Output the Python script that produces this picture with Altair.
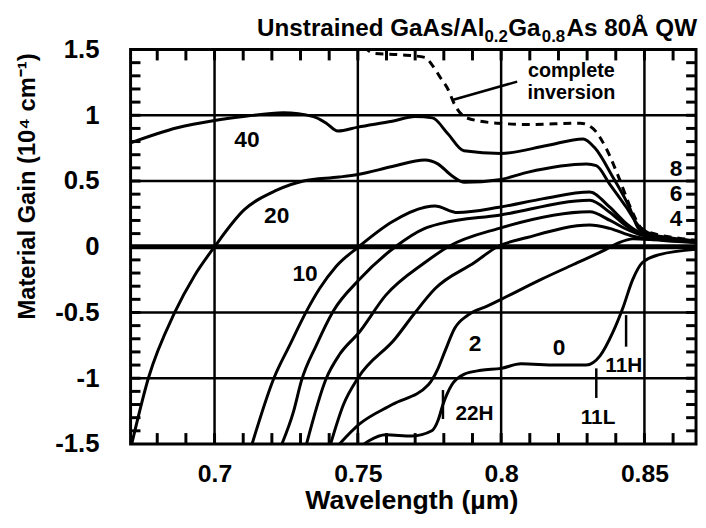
import altair as alt
import pandas as pd

FONT = "Liberation Sans"
W, H = 572, 399
XMIN, XMAX = 0.6707, 0.868
YMIN, YMAX = -1.5, 1.5

# ---------------- data ----------------
x40 = [0.6707, 0.687, 0.700, 0.710, 0.724, 0.7345, 0.739, 0.743, 0.750, 0.762, 0.770, 0.776, 0.7814, 0.787, 0.800, 0.816, 0.8286, 0.8326, 0.839, 0.8447, 0.8482, 0.853, 0.858, 0.863, 0.868]
y40 = [0.79, 0.905, 0.96, 0.99, 1.02, 0.99, 0.94, 0.88, 0.91, 0.955, 0.99, 0.98, 0.86, 0.73, 0.71, 0.77, 0.82, 0.754, 0.529, 0.303, 0.13, 0.09, 0.07, 0.055, 0.045]

x20 = [0.6711, 0.6769, 0.6861, 0.693, 0.700, 0.7103, 0.7217, 0.731, 0.7434, 0.750, 0.762, 0.7734, 0.7779, 0.7828, 0.7872, 0.7993, 0.8091, 0.8298, 0.8332, 0.8378, 0.8436, 0.8482, 0.853, 0.860, 0.868]
y20 = [-1.5, -1.0, -0.5, -0.22, 0.0, 0.28, 0.43, 0.50, 0.53, 0.55, 0.61, 0.66, 0.63, 0.54, 0.49, 0.51, 0.566, 0.629, 0.617, 0.479, 0.303, 0.153, 0.09, 0.06, 0.045]

x10 = [0.7131, 0.7207, 0.7262, 0.7321, 0.7366, 0.7424, 0.7503, 0.762, 0.7734, 0.7769, 0.7848, 0.7993, 0.8148, 0.8309, 0.8378, 0.8436, 0.849, 0.855, 0.860, 0.868]
y10 = [-1.5, -1.0, -0.75, -0.49, -0.32, -0.15, 0.0, 0.19, 0.30, 0.31, 0.26, 0.30, 0.366, 0.416, 0.303, 0.178, 0.10, 0.07, 0.055, 0.04]

x8 = [0.7235, 0.7276, 0.7303, 0.7355, 0.7414, 0.7505, 0.7631, 0.7734, 0.7792, 0.7993, 0.8309, 0.838, 0.8436, 0.849, 0.855, 0.860, 0.868]
y8 = [-1.5, -1.25, -1.02, -0.75, -0.49, -0.25, 0.0, 0.14, 0.178, 0.24, 0.353, 0.26, 0.16, 0.095, 0.068, 0.052, 0.038]

x6 = [0.7321, 0.739, 0.7436, 0.7505, 0.7597, 0.7734, 0.7815, 0.7993, 0.8309, 0.838, 0.8436, 0.849, 0.855, 0.860, 0.868]
y6 = [-1.5, -1.0, -0.82, -0.65, -0.37, -0.12, 0.0, 0.14, 0.266, 0.20, 0.135, 0.088, 0.064, 0.05, 0.036]

x4 = [0.7405, 0.745, 0.750, 0.763, 0.770, 0.7769, 0.7907, 0.7987, 0.8091, 0.8309, 0.8378, 0.8459, 0.852, 0.860, 0.868]
y4 = [-1.5, -1.2, -1.0, -0.70, -0.50, -0.32, -0.12, 0.0, 0.07, 0.165, 0.14, 0.08, 0.06, 0.045, 0.034]

x2 = [0.7436, 0.7505, 0.762, 0.7746, 0.778, 0.7803, 0.7838, 0.7884, 0.7953, 0.800, 0.8138, 0.8252, 0.8366, 0.841, 0.846, 0.852, 0.860, 0.868]
y2 = [-1.5, -1.35, -1.2, -1.05, -0.925, -0.80, -0.62, -0.52, -0.45, -0.40, -0.25, -0.135, -0.02, 0.03, 0.06, 0.055, 0.042, 0.032]

x0 = [0.751, 0.7539, 0.7597, 0.7689, 0.7758, 0.778, 0.7797, 0.7828, 0.787, 0.793, 0.800, 0.8069, 0.8193, 0.8297, 0.8345, 0.839, 0.8424, 0.8459, 0.8493, 0.8552, 0.868]
y0 = [-1.52, -1.476, -1.43, -1.44, -1.40, -1.32, -1.20, -1.05, -0.97, -0.94, -0.925, -0.89, -0.90, -0.90, -0.83, -0.65, -0.47, -0.25, -0.12, -0.06, -0.02]

x_inv = [0.752, 0.756, 0.765, 0.7734, 0.776, 0.779, 0.7814, 0.7838, 0.788, 0.7986, 0.810, 0.8276, 0.832, 0.8366, 0.841, 0.8455, 0.849, 0.855, 0.862, 0.868]
y_inv = [1.52, 1.47, 1.46, 1.44, 1.38, 1.28, 1.20, 1.08, 0.98, 0.94, 0.93, 0.94, 0.90, 0.75, 0.53, 0.28, 0.14, 0.09, 0.065, 0.05]

curve_names = ["40", "20", "10", "8", "6", "4", "2", "0"]
curve_xs = [x40, x20, x10, x8, x6, x4, x2, x0]
curve_ys = [y40, y20, y10, y8, y6, y4, y2, y0]

label_text = ["40", "20", "10", "8", "6", "4", "2", "0"]
label_x = [0.7113, 0.7217, 0.7316, 0.861, 0.861, 0.861, 0.7909, 0.8202]
label_y = [0.812, 0.233, -0.21, 0.59, 0.402, 0.214, -0.737, -0.767]

trans_text = ["22H", "11L", "11H"]
trans_x = [0.7907, 0.8338, 0.8428]
trans_y = [-1.27, -1.305, -0.906]
marker_x = [0.7797, 0.8332, 0.8436]
marker_y1 = [-1.09, -0.925, -0.52]
marker_y2 = [-1.31, -1.15, -0.76]

inv_text = ["complete", "inversion"]
inv_x = [0.8245, 0.8245]
inv_y = [1.338, 1.172]
pointer_x = [0.7833]
pointer_x2 = [0.8056]
pointer_y = [1.118]
pointer_y2 = [1.256]

x_major = [0.7, 0.75, 0.8, 0.85]
y_major = [-1.5, -1, -0.5, 0, 0.5, 1, 1.5]
x_grid = [0.7, 0.75, 0.8, 0.85]
y_grid = [-1, -0.5, 0.5, 1]
x_minor = [0.68, 0.69, 0.70, 0.71, 0.72, 0.73, 0.74, 0.75, 0.76, 0.77, 0.78, 0.79, 0.80, 0.81, 0.82, 0.83, 0.84, 0.85, 0.86]
y_minor = [-1.4, -1.3, -1.2, -1.1, -1.0, -0.9, -0.8, -0.7, -0.6, -0.5, -0.4, -0.3, -0.2, -0.1, 0.0,
           0.1, 0.2, 0.3, 0.4, 0.5, 0.6, 0.7, 0.8, 0.9, 1.0, 1.1, 1.2, 1.3, 1.4]

# ---------------- tables ----------------
rows = []
for name, xs, ys in zip(curve_names, curve_xs, curve_ys):
    for xv, yv in zip(xs, ys):
        rows.append({"curve": name, "x": xv, "y": yv})
curve_df = pd.DataFrame(rows)
inv_df = pd.DataFrame({"x": x_inv, "y": y_inv})

seg_rows = []
for a, b, c, d in zip(pointer_x, pointer_x2, pointer_y, pointer_y2):
    seg_rows.append({"x": a, "x2": b, "y": c, "y2": d})
for a, c, d in zip(marker_x, marker_y1, marker_y2):
    seg_rows.append({"x": a, "x2": a, "y": c, "y2": d})
seg_df = pd.DataFrame(seg_rows)

# inward minor ticks (lengths in pixels converted to data units), kept a little
# away from the frame so they are drawn as short inward strokes
ty = 11 * (YMAX - YMIN) / H
tx = 10 * (XMAX - XMIN) / W
tick_rows = []
for v in x_minor:
    tick_rows.append({"x": v, "x2": v, "y": YMAX, "y2": YMAX - ty})
    tick_rows.append({"x": v, "x2": v, "y": YMIN, "y2": YMIN + ty})
for v in y_minor:
    tick_rows.append({"x": XMIN, "x2": XMIN + tx, "y": v, "y2": v})
    tick_rows.append({"x": XMAX, "x2": XMAX - tx, "y": v, "y2": v})
tick_df = pd.DataFrame(tick_rows)

xscale = alt.Scale(domain=[XMIN, XMAX], nice=False, zero=False)
yscale = alt.Scale(domain=[YMIN, YMAX], nice=False, zero=False)

xaxis = alt.Axis(values=x_major, labelExpr="toString(datum.value)", title="Wavelength (µm)",
                 labelFont=FONT, labelFontSize=25, labelFontWeight="bold", labelColor="black",
                 labelPadding=38, labelBaseline="alphabetic", labelFlush=False, labelOverlap=False,
                 ticks=False, tickSize=0, domain=False, grid=False, zindex=0,
                 titleFont=FONT, titleFontSize=27, titleFontWeight="bold", titleColor="black",
                 titleX=284, titleY=65, titleBaseline="alphabetic", titleAlign="center")
yaxis = alt.Axis(values=y_major, labelExpr="toString(datum.value)", title="Material Gain (10⁴ cm⁻¹)",
                 labelFont=FONT, labelFontSize=26, labelFontWeight="bold", labelColor="black",
                 labelPadding=32, labelFlush=False, labelOverlap=False,
                 ticks=False, tickSize=0, domain=False, grid=False, zindex=0,
                 titleFont=FONT, titleFontSize=24, titleFontWeight="bold", titleColor="black",
                 titleX=-104, titleY=138, titleAngle=-90, titleBaseline="middle", titleAlign="center")


def X(f):
    return alt.X(f, scale=xscale, axis=xaxis)


def Y(f):
    return alt.Y(f, scale=yscale, axis=yaxis)


curves = alt.Chart(curve_df).mark_line(color="black", strokeWidth=3, interpolate="monotone", clip=True).encode(
    x=X("x:Q"), y=Y("y:Q"), detail="curve:N",
)
inversion = alt.Chart(inv_df).mark_line(color="black", strokeWidth=3, strokeDash=[8, 6], interpolate="monotone", clip=True).encode(
    x=X("x:Q"), y=Y("y:Q"))

vgrid = alt.Chart(pd.DataFrame({"x": x_grid})).mark_rule(color="black", strokeWidth=2.5).encode(x=X("x:Q"))
hgrid = alt.Chart(pd.DataFrame({"y": y_grid})).mark_rule(color="black", strokeWidth=2.5).encode(y=Y("y:Q"))
zero = alt.Chart(pd.DataFrame({"y": [0]})).mark_rule(color="black", strokeWidth=5).encode(y=Y("y:Q"))

segments = alt.Chart(seg_df).mark_rule(color="black", strokeWidth=2.5).encode(
    x=X("x:Q"), x2="x2:Q", y=Y("y:Q"), y2="y2:Q")
ticks = alt.Chart(tick_df).mark_rule(color="#000000", strokeWidth=3, opacity=1, strokeCap="butt").encode(
    x=X("x:Q"), x2="x2:Q", y=Y("y:Q"), y2="y2:Q")

labels = alt.Chart(pd.DataFrame({"t": label_text, "x": label_x, "y": label_y})).mark_text(
    font=FONT, fontWeight="bold", fontSize=23, color="black", align="center", baseline="middle").encode(
    x=X("x:Q"), y=Y("y:Q"), text="t:N")
trans = alt.Chart(pd.DataFrame({"t": trans_text, "x": trans_x, "y": trans_y})).mark_text(
    font=FONT, fontWeight="bold", fontSize=21, color="black", align="center", baseline="middle").encode(
    x=X("x:Q"), y=Y("y:Q"), text="t:N")
inv_lbl = alt.Chart(pd.DataFrame({"t": inv_text, "x": inv_x, "y": inv_y})).mark_text(
    font=FONT, fontWeight="bold", fontSize=20, color="black", align="center", baseline="middle").encode(
    x=X("x:Q"), y=Y("y:Q"), text="t:N")


def seg(text, px, py, size):
    return alt.Chart(pd.DataFrame({"t": [text]})).mark_text(
        font=FONT, fontWeight="bold", fontSize=size, color="black", align="left", baseline="alphabetic").encode(
        text="t:N", x=alt.value(px), y=alt.value(py))


title_parts = [
    seg("Unstrained GaAs/Al", 128, -14, 24.5),
    seg("0.2", 358, -8, 17),
    seg("Ga", 382, -14, 24.5),
    seg("0.8", 416, -8, 17),
    seg("As 80Å QW", 441, -14, 24.5),
]

chart = alt.layer(
    curves, vgrid, hgrid, zero, inversion, labels, trans, inv_lbl, segments, *title_parts, ticks
).properties(
    width=W, height=H,
    autosize=alt.AutoSizeParams(type="none"),
    padding={"left": 124, "top": 39, "right": 2, "bottom": 82},
    background="white",
).configure_view(stroke="black", strokeWidth=3)

chart.save("out.html", embed_options={"renderer": "svg", "actions": False})
